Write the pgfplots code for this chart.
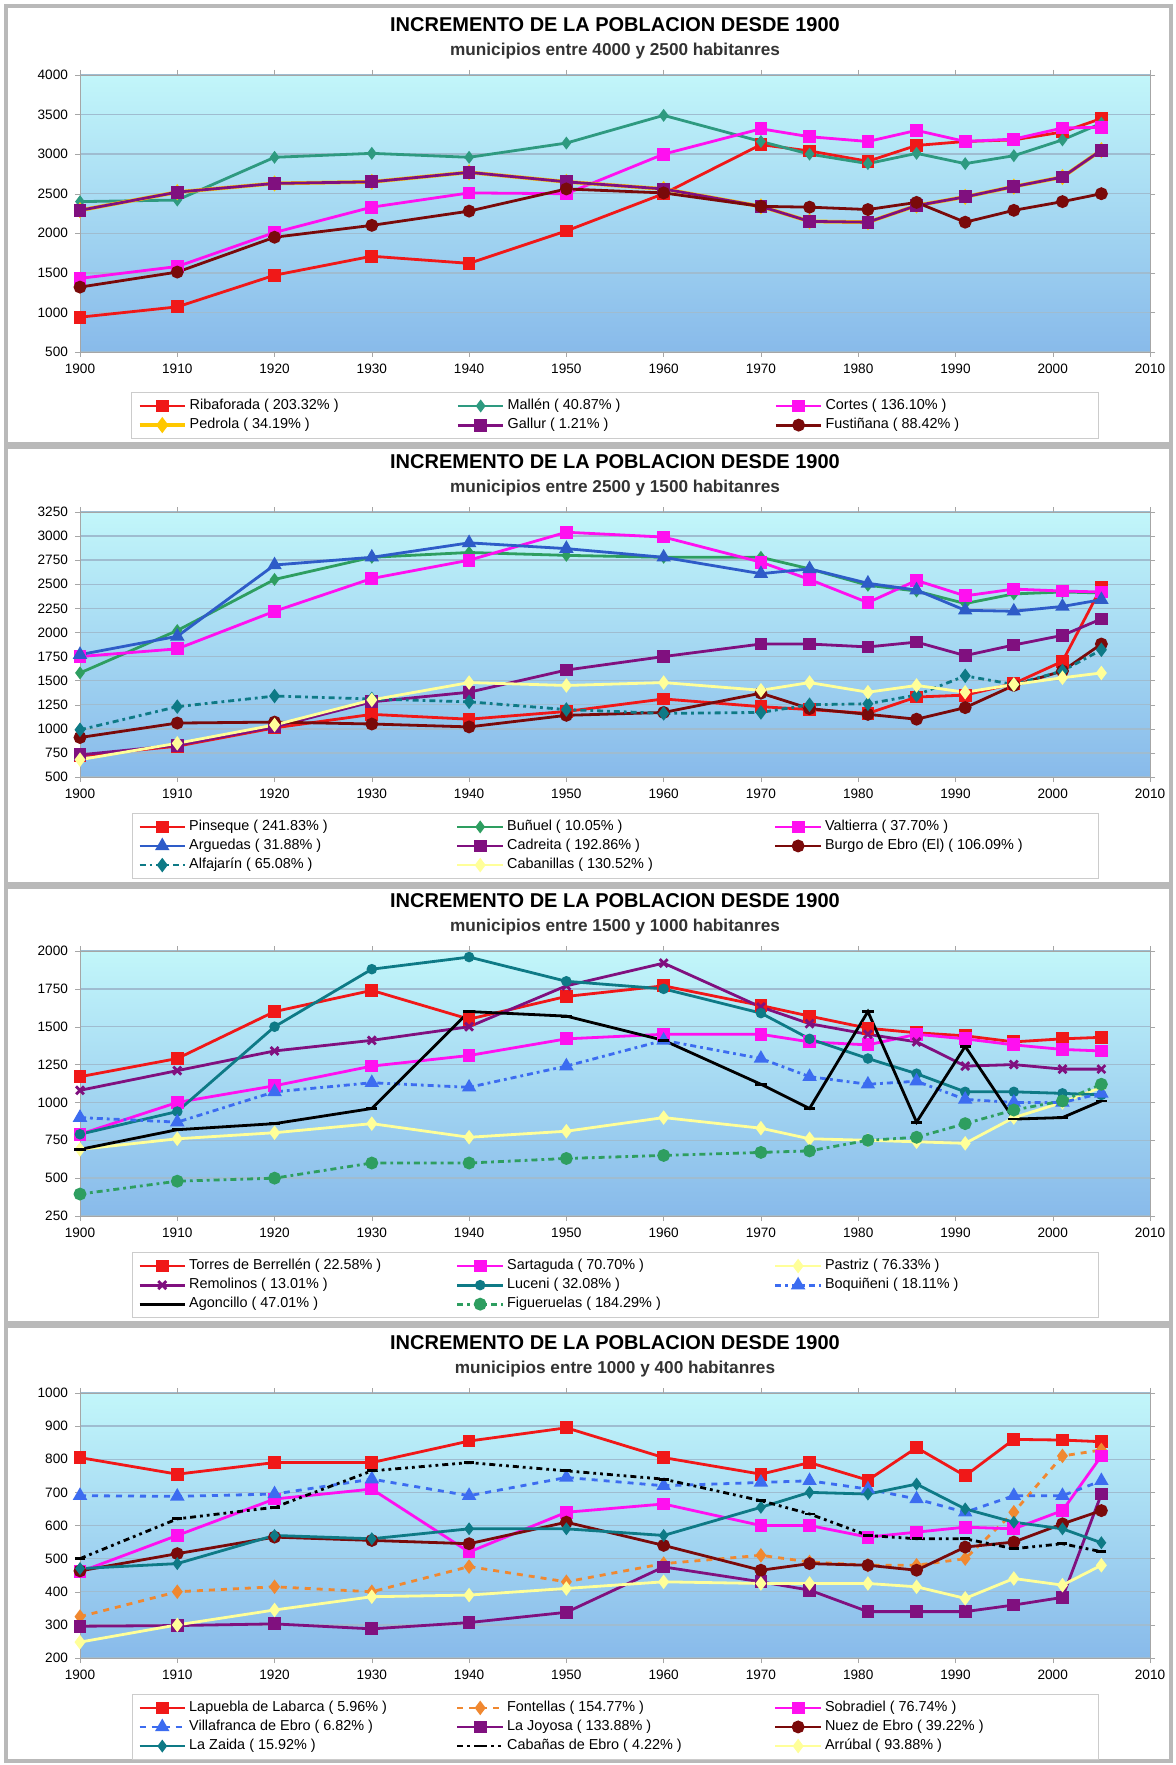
\documentclass[border=0pt]{standalone}
\usepackage{fontspec}
\setmainfont{Liberation Sans}
\usepackage{pgfplots}
\usepackage{pgfplotstable}
\pgfplotsset{compat=1.18}

\definecolor{bgtop}{HTML}{C2F6FA}
\definecolor{bgbot}{HTML}{88BAEA}
\definecolor{gridc}{HTML}{9FBCD0}
\definecolor{cred}{HTML}{F01818}
\definecolor{cteal}{HTML}{2E9A80}
\definecolor{cmag}{HTML}{FF10F0}
\definecolor{cyel}{HTML}{FFC800}
\definecolor{cpur}{HTML}{80107F}
\definecolor{cdred}{HTML}{7A0A0A}
\definecolor{cgreen}{HTML}{2E9E60}
\definecolor{cblue}{HTML}{2E5CC8}
\definecolor{cdteal}{HTML}{0E7A86}
\definecolor{cpale}{HTML}{FFFF99}
\definecolor{corange}{HTML}{F08830}
\definecolor{cbq}{HTML}{3C6CF0}

\newcommand\lb[1]{\makebox[132pt][l]{#1}}
\newcommand\ttl[1]{{\fontsize{10}{13}\selectfont\bfseries INCREMENTO DE LA POBLACION DESDE 1900}\\{\fontsize{8.6}{10}\selectfont\bfseries\color{black!80} municipios entre #1 habitanres}}

\pgfplotsset{
  panel/.style={
    scale only axis, width=535pt, anchor=north west,
    xmin=1900, xmax=2010, xtick={1900,1910,...,2010},
    scaled ticks=false,
    /pgf/number format/1000 sep={},
    /pgf/number format/assume math mode=true,
    tick label style={font=\fontsize{6.8}{7}\selectfont},
    axis background/.style={shade, top color=bgtop, bottom color=bgbot},
    ymajorgrids, major grid style={draw=gridc, line width=0.7pt},
    axis line style={gray!70}, tick style={gray!70}, tick align=outside,
    major tick length=2.5pt,
    legend columns=3, legend cell align=left,
    legend style={at={(0.5,0)}, anchor=north, yshift=-18pt, draw=gray!40,
      fill=white, font=\fontsize{7.2}{8}\selectfont, column sep=0pt,
      nodes={inner sep=1.4pt}},
    legend image code/.code={\draw[mark repeat=2,mark phase=2] plot coordinates {(0cm,0cm) (0.4cm,0cm) (0.8cm,0cm)};},
    every axis plot/.append style={line width=1.4pt, mark size=2.5pt, mark options={solid}},
    title style={align=center, at={(0.5,1)}, anchor=south, yshift=1pt, inner sep=1pt},
  }
}

\pgfplotstableread{
year Riba Mallen Cortes Pedrola Gallur Fust
1900 940 2400 1430 2290 2290 1320
1910 1070 2420 1580 2520 2520 1510
1920 1470 2960 2010 2630 2630 1950
1930 1710 3010 2330 2650 2650 2100
1940 1620 2960 2510 2770 2770 2280
1950 2030 3140 2500 2650 2650 2560
1960 2500 3490 3000 2560 2560 2510
1970 3120 3160 3320 2340 2340 2340
1975 3040 3000 3220 2150 2150 2330
1981 2910 2880 3160 2140 2140 2300
1986 3110 3010 3300 2350 2350 2390
1991 3160 2880 3160 2460 2460 2140
1996 3180 2980 3190 2590 2590 2290
2001 3280 3180 3330 2710 2710 2400
2005 3450 3390 3340 3050 3050 2500
}\tA

\pgfplotstableread{
year Pinseque Bunuel Valtierra Arguedas Cadreita Burgo Alfajarin Cabanillas
1900 720 1580 1750 1770 730 910 990 680
1910 820 2020 1830 1960 830 1060 1230 850
1920 1010 2550 2220 2700 1020 1070 1340 1040
1930 1150 2780 2560 2780 1280 1050 1310 1300
1940 1100 2830 2750 2930 1380 1020 1280 1480
1950 1180 2800 3040 2870 1610 1140 1200 1450
1960 1310 2780 2990 2780 1750 1170 1160 1480
1970 1230 2780 2730 2610 1880 1370 1170 1400
1975 1200 2660 2550 2660 1880 1210 1250 1480
1981 1160 2490 2310 2510 1850 1150 1260 1380
1986 1330 2430 2540 2440 1900 1100 1350 1450
1991 1350 2300 2380 2230 1760 1220 1550 1380
1996 1470 2400 2450 2220 1870 1450 1460 1460
2001 1700 2420 2430 2270 1970 1600 1600 1530
2005 2470 2410 2420 2340 2140 1880 1820 1580
}\tB

\pgfplotstableread{
year Torres Sartaguda Pastriz Remolinos Luceni Boquineni Agoncillo Figueruelas
1900 1170 790 690 1080 790 900 690 395
1910 1290 1000 760 1210 940 870 820 480
1920 1600 1110 800 1340 1500 1070 860 500
1930 1740 1240 860 1410 1880 1130 960 600
1940 1550 1310 770 1500 1960 1100 1600 600
1950 1700 1420 810 1770 1800 1240 1570 630
1960 1770 1450 900 1920 1750 1410 1410 650
1970 1640 1450 830 1630 1590 1290 1120 670
1975 1570 1400 760 1520 1420 1170 960 680
1981 1490 1380 750 1450 1290 1120 1600 750
1986 1460 1450 740 1400 1190 1140 870 770
1991 1440 1420 730 1240 1070 1020 1370 860
1996 1400 1380 900 1250 1070 1000 890 950
2001 1420 1350 1000 1220 1060 1000 900 1010
2005 1430 1340 1100 1220 1050 1060 1010 1120
}\tC

\pgfplotstableread{
year Lapuebla Fontellas Sobradiel Villafranca Joyosa Nuez Zaida Cabanas Arrubal
1900 805 325 460 690 296 463 470 500 248
1910 755 400 570 688 298 515 485 620 300
1920 790 415 680 695 303 565 570 655 345
1930 790 400 710 740 288 555 560 765 385
1940 855 476 520 690 307 545 590 790 390
1950 895 430 640 745 338 610 590 765 410
1960 805 485 665 720 475 540 570 740 430
1970 755 510 600 730 430 465 655 675 425
1975 790 490 600 735 405 485 700 635 425
1981 737 480 565 710 340 480 695 570 425
1986 835 480 580 680 340 465 725 560 415
1991 750 500 595 640 340 535 650 560 380
1996 860 640 590 690 360 550 610 530 440
2001 858 810 645 690 383 605 590 545 420
2005 853 828 810 735 695 645 548 521 480
}\tD

\begin{document}
\begin{tikzpicture}
\useasboundingbox (0,0) rectangle (588pt,-882.5pt);
\fill[white] (0,0) rectangle (588pt,-882.5pt);
\draw[gray!55, line width=1.8pt] (3pt,-3pt) rectangle (585.5pt,-222pt);
\draw[gray!55, line width=1.8pt] (3pt,-223.5pt) rectangle (585.5pt,-442pt);
\draw[gray!55, line width=1.8pt] (3pt,-443.5pt) rectangle (585.5pt,-661.5pt);
\draw[gray!55, line width=1.8pt] (3pt,-663pt) rectangle (585.5pt,-880.5pt);

% panel 1
\begin{axis}[panel, at={(40pt,-37.5pt)}, height=138.5pt,
  ymin=500, ymax=4000, ytick={500,1000,...,4000},
  title={\ttl{4000 y 2500}}, legend style={yshift=-2pt}]
\addplot[cred, mark=square*] table[x=year,y=Riba]{\tA};
\addlegendentry{\lb{Ribaforada ( 203.32\% )}}
\addplot[cteal, mark=diamond*, mark size=2.1pt] table[x=year,y=Mallen]{\tA};
\addlegendentry{\lb{Mallén ( 40.87\% )}}
\addplot[cmag, mark=square*] table[x=year,y=Cortes]{\tA};
\addlegendentry{\lb{Cortes ( 136.10\% )}}
\addplot[cyel, mark=diamond*, line width=1.9pt] table[x=year,y=Pedrola]{\tA};
\addlegendentry{\lb{Pedrola ( 34.19\% )}}
\addplot[cpur, mark=square*] table[x=year,y=Gallur]{\tA};
\addlegendentry{\lb{Gallur ( 1.21\% )}}
\addplot[cdred, mark=*] table[x=year,y=Fust]{\tA};
\addlegendentry{\lb{Fustiñana ( 88.42\% )}}
\end{axis}

% panel 2
\begin{axis}[panel, at={(40pt,-256pt)}, height=132.5pt,
  ymin=500, ymax=3250, ytick={500,750,...,3250},
  title={\ttl{2500 y 1500}}]
\addplot[cred, mark=square*] table[x=year,y=Pinseque]{\tB};
\addlegendentry{\lb{Pinseque ( 241.83\% )}}
\addplot[cgreen, mark=diamond*, mark size=2.1pt] table[x=year,y=Bunuel]{\tB};
\addlegendentry{\lb{Buñuel ( 10.05\% )}}
\addplot[cmag, mark=square*] table[x=year,y=Valtierra]{\tB};
\addlegendentry{\lb{Valtierra ( 37.70\% )}}
\addplot[cblue, mark=triangle*, mark size=2.8pt] table[x=year,y=Arguedas]{\tB};
\addlegendentry{\lb{Arguedas ( 31.88\% )}}
\addplot[cpur, mark=square*] table[x=year,y=Cadreita]{\tB};
\addlegendentry{\lb{Cadreita ( 192.86\% )}}
\addplot[cdred, mark=*] table[x=year,y=Burgo]{\tB};
\addlegendentry{\lb{Burgo de Ebro (El) ( 106.09\% )}}
\addplot[cdteal, mark=diamond*, dash dot] table[x=year,y=Alfajarin]{\tB};
\addlegendentry{\lb{Alfajarín ( 65.08\% )}}
\addplot[cpale, mark=diamond*] table[x=year,y=Cabanillas]{\tB};
\addlegendentry{\lb{Cabanillas ( 130.52\% )}}
\end{axis}

% panel 3
\begin{axis}[panel, at={(40pt,-475.5pt)}, height=132.5pt,
  ymin=250, ymax=2000, ytick={250,500,...,2000},
  title={\ttl{1500 y 1000}}]
\addplot[cred, mark=square*] table[x=year,y=Torres]{\tC};
\addlegendentry{\lb{Torres de Berrellén ( 22.58\% )}}
\addplot[cmag, mark=square*] table[x=year,y=Sartaguda]{\tC};
\addlegendentry{\lb{Sartaguda ( 70.70\% )}}
\addplot[cpale, mark=diamond*] table[x=year,y=Pastriz]{\tC};
\addlegendentry{\lb{Pastriz ( 76.33\% )}}
\addplot[cpur, mark=x, mark size=2.8pt] table[x=year,y=Remolinos]{\tC};
\addlegendentry{\lb{Remolinos ( 13.01\% )}}
\addplot[cdteal, mark=*, mark size=1.9pt] table[x=year,y=Luceni]{\tC};
\addlegendentry{\lb{Luceni ( 32.08\% )}}
\addplot[cbq, mark=triangle*, mark size=2.8pt, dash dot] table[x=year,y=Boquineni]{\tC};
\addlegendentry{\lb{Boquiñeni ( 18.11\% )}}
\addplot[black, mark=-, mark size=2.8pt] table[x=year,y=Agoncillo]{\tC};
\addlegendentry{\lb{Agoncillo ( 47.01\% )}}
\addplot[cgreen, mark=*, dash dot] table[x=year,y=Figueruelas]{\tC};
\addlegendentry{\lb{Figueruelas ( 184.29\% )}}
\end{axis}

% panel 4
\begin{axis}[panel, at={(40pt,-696.5pt)}, height=132.5pt,
  ymin=200, ymax=1000, ytick={200,300,...,1000},
  title={\ttl{1000 y 400}}]
\addplot[cred, mark=square*] table[x=year,y=Lapuebla]{\tD};
\addlegendentry{\lb{Lapuebla de Labarca ( 5.96\% )}}
\addplot[corange, mark=diamond*, dashed] table[x=year,y=Fontellas]{\tD};
\addlegendentry{\lb{Fontellas ( 154.77\% )}}
\addplot[cmag, mark=square*] table[x=year,y=Sobradiel]{\tD};
\addlegendentry{\lb{Sobradiel ( 76.74\% )}}
\addplot[cbq, mark=triangle*, mark size=2.8pt, dashed] table[x=year,y=Villafranca]{\tD};
\addlegendentry{\lb{Villafranca de Ebro ( 6.82\% )}}
\addplot[cpur, mark=square*] table[x=year,y=Joyosa]{\tD};
\addlegendentry{\lb{La Joyosa ( 133.88\% )}}
\addplot[cdred, mark=*] table[x=year,y=Nuez]{\tD};
\addlegendentry{\lb{Nuez de Ebro ( 39.22\% )}}
\addplot[cdteal, mark=diamond*, mark size=2.1pt] table[x=year,y=Zaida]{\tD};
\addlegendentry{\lb{La Zaida ( 15.92\% )}}
\addplot[black, mark=-, dash dot dot] table[x=year,y=Cabanas]{\tD};
\addlegendentry{\lb{Cabañas de Ebro ( 4.22\% )}}
\addplot[cpale, mark=diamond*] table[x=year,y=Arrubal]{\tD};
\addlegendentry{\lb{Arrúbal ( 93.88\% )}}
\end{axis}
\end{tikzpicture}
\end{document}
